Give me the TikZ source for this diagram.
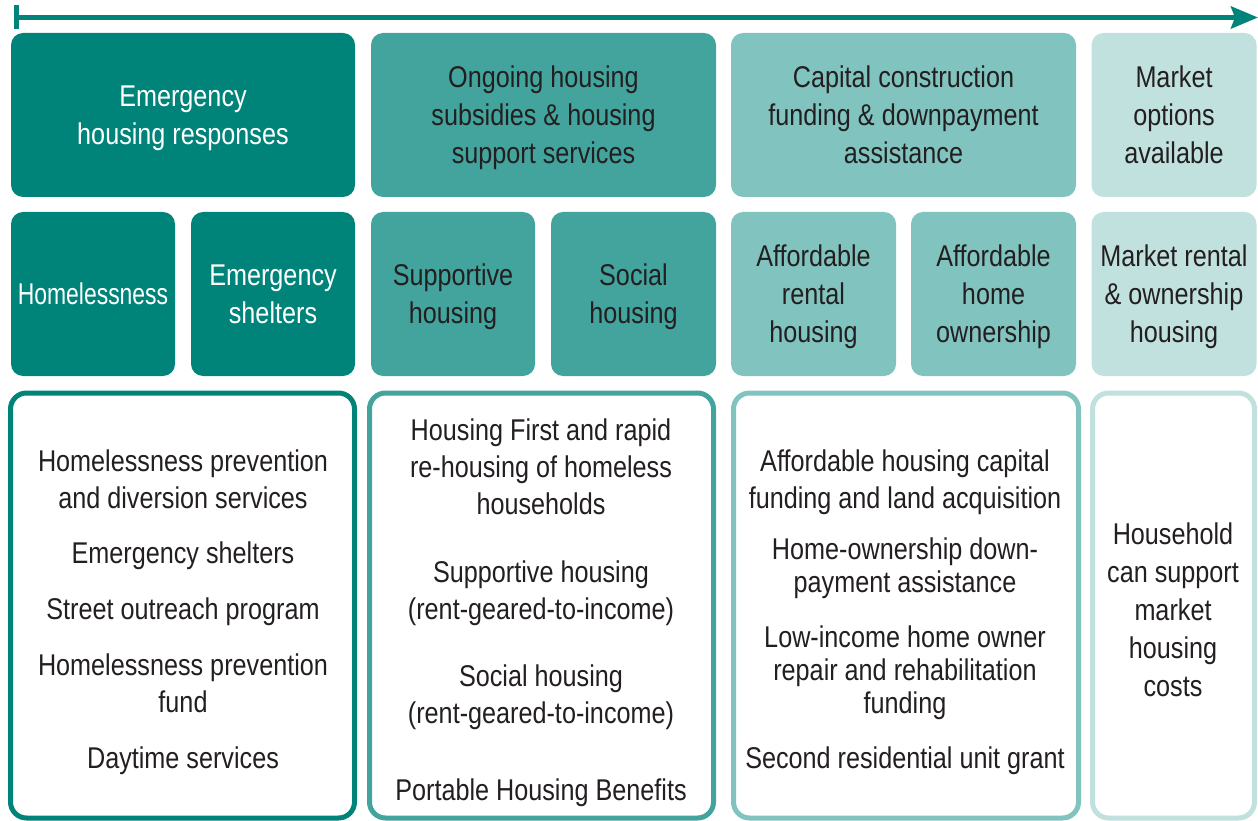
\documentclass[tikz,border=0pt]{standalone}
\usepackage{fontspec}
\setmainfont{Liberation Sans}[FakeStretch=0.84]
\usetikzlibrary{arrows.meta}

\definecolor{tealA}{RGB}{0,132,122}
\definecolor{tealB}{RGB}{66,164,157}
\definecolor{tealC}{RGB}{129,195,190}
\definecolor{tealD}{RGB}{192,225,222}
\definecolor{ink}{RGB}{35,31,32}

\begin{document}
\begin{tikzpicture}[x=1pt, y=-1pt,
	head/.style={rounded corners=12pt, minimum width=344pt, minimum height=164pt, inner sep=0pt, text depth=0pt, align=center, font=\fontsize{30}{38}\selectfont},
	sub/.style={head, minimum width=164pt},
	list/.style={draw, line width=5pt, rounded corners=16pt, minimum width=344pt, minimum height=425pt, fill=white},
	item/.style={inner sep=0pt, text depth=0pt, align=center, text=ink, font=\fontsize{30}{37}\selectfont},
	timeline/.style={draw=tealA, line width=5pt, {Bar[width=24pt]}-{Stealth[length=27pt, width=22pt, inset=4pt]}}]
	\useasboundingbox (0,0) rectangle (1258,821);

	%Timeline
	\coordinate (start) at (13.5,17.5);
	\coordinate (end) at (1258,17.5);
	\draw[timeline] (start) -- (end);

	%Headers
	\node[head, fill=tealA, text=white] (h1) at (183,115) {Emergency\\housing responses};
	\node[head, fill=tealB, text=ink, minimum width=345pt] (h2) at (543.5,115) {Ongoing housing\\subsidies \& housing\\support services};
	\node[head, fill=tealC, text=ink, minimum width=345pt] (h3) at (903.5,115) {Capital construction\\funding \& downpayment\\assistance};
	\node[head, fill=tealD, text=ink, minimum width=165pt] (h4) at (1174,115) {Market\\options\\available};

	%Housing types
	\node[sub, fill=tealA, text=white] (t1) at (93,294) {\scalebox{0.91}[1]{Homelessness}};
	\node[sub, fill=tealA, text=white] (t2) at (273,294) {Emergency\\shelters};
	\node[sub, fill=tealB, text=ink] (t3) at (453,294) {Supportive\\housing};
	\node[sub, fill=tealB, text=ink, minimum width=165pt] (t4) at (633.5,294) {Social\\housing};
	\node[sub, fill=tealC, text=ink, minimum width=165pt] (t5) at (813.5,294) {Affordable\\rental\\housing};
	\node[sub, fill=tealC, text=ink, minimum width=165pt] (t6) at (993.5,294) {Affordable\\home\\ownership};
	\node[sub, fill=tealD, text=ink, minimum width=165pt] (t7) at (1174,294) {Market rental\\\& ownership\\housing};

	%Programs
	\node[list, draw=tealA] (l1) at (182.5,605.5) {};
	\node[list, draw=tealB] (l2) at (541.5,605.5) {};
	\node[list, draw=tealC, minimum width=345pt] (l3) at (906,605.5) {};
	\node[list, draw=tealD, minimum width=162pt] (l4) at (1173.5,605.5) {};

	\node[item] (p11) at (183,479) {Homelessness prevention\\and diversion services};
	\node[item] (p12) at (183,553) {Emergency shelters};
	\node[item] (p13) at (183,609) {Street outreach program};
	\node[item] (p14) at (183,683.5) {Homelessness prevention\\fund};
	\node[item] (p15) at (183,758) {Daytime services};

	\node[item] (p21) at (541,467) {Housing First and rapid\\re-housing of homeless\\households};
	\node[item] (p22) at (541,590.5) {Supportive housing\\(rent-geared-to-income)};
	\node[item] (p23) at (541,694.5) {Social housing\\(rent-geared-to-income)};
	\node[item] (p24) at (541,790) {Portable Housing Benefits};

	\node[item] (p31) at (905,479) {Affordable housing capital\\funding and land acquisition};
	\node[item, font=\fontsize{30}{33}\selectfont] (p32) at (905,565) {Home-ownership down-\\payment assistance};
	\node[item, font=\fontsize{30}{33}\selectfont] (p33) at (905,670) {Low-income home owner\\repair and rehabilitation\\funding};
	\node[item] (p34) at (905,758) {Second residential unit grant};

	\node[item, font=\fontsize{30}{38}\selectfont] (p41) at (1173,609.5) {Household\\can support\\market\\housing\\costs};
\end{tikzpicture}
\end{document}
